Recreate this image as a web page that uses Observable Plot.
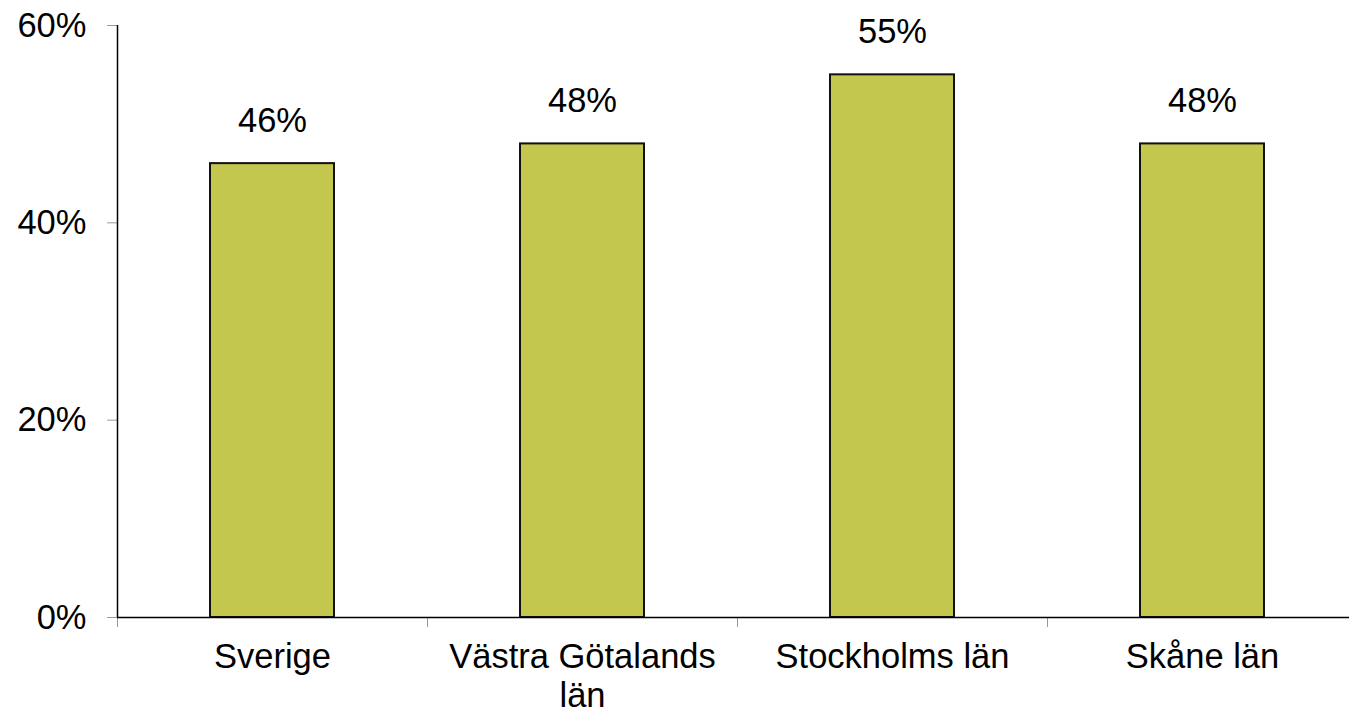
<!DOCTYPE html>
<html>
<head>
<meta charset="utf-8">
<script src="https://cdn.jsdelivr.net/npm/d3@7"></script>
<script src="https://cdn.jsdelivr.net/npm/@observablehq/plot@0.6"></script>
<style>
  html, body { margin: 0; padding: 0; background: #fff; overflow: hidden; }
  #chart { width: 1349px; height: 713px; overflow: hidden; }
  #chart svg { max-width: none !important; font-family: "Liberation Sans", Arial, sans-serif; }
</style>
</head>
<body>
<div id="chart"></div>
<script>
const categories = ["Sverige", "Västra Götalands län", "Stockholms län", "Skåne län"];
const tickLabels = ["Sverige", "Västra Götalands\nlän", "Stockholms län", "Skåne län"];
const values = [46, 48, 55, 48];
const yTicks = [0, 20, 40, 60];

const data = categories.map((c, i) => ({category: c, value: values[i], label: values[i] + "%"}));
const labelOf = new Map(categories.map((c, i) => [c, tickLabels[i]]));

const W = 1357, H = 713, mL = 117, mR = 0, mT = 25, mB = 96;
const step = (W - mL - mR) / categories.length;
const FS = 34.5;

const chart = Plot.plot({
  width: W,
  height: H,
  marginLeft: mL,
  marginRight: mR,
  marginTop: mT,
  marginBottom: mB,
  style: {fontFamily: '"Liberation Sans", Arial, sans-serif', fontSize: FS + "px", color: "#000", background: "#fff", maxWidth: "none"},
  x: {domain: categories, paddingInner: 0.6, paddingOuter: 0.3, axis: null, label: null},
  y: {domain: [yTicks[0], yTicks[yTicks.length - 1]], axis: null, label: null},
  marks: [
    Plot.barY(data, {x: "category", y: "value", fill: "#C4C74D", stroke: "#111", strokeWidth: 2}),
    Plot.text(data, {x: "category", y: "value", text: "label", lineAnchor: "bottom", dy: -32, fontSize: FS, fill: "#000"}),
    // y axis ticks + labels
    Plot.axisY({ticks: yTicks, tickSize: 10, tickFormat: () => "", label: null, stroke: "#999", strokeWidth: 1}),
    Plot.axisY({ticks: yTicks, tickSize: 0, tickPadding: 31, tickFormat: d => d + "%", label: null, fontSize: FS, fill: "#000"}),
    // x axis boundary ticks + labels
    Plot.axisX({tickSize: 10, tickFormat: () => "", label: null, dx: -step / 2, stroke: "#999", strokeWidth: 1}),
    Plot.axisX({tickSize: 0, tickPadding: 22, tickFormat: d => labelOf.get(d), label: null, fontSize: FS, lineHeight: 1.15, fill: "#000"}),
    // axis lines
    Plot.ruleY([yTicks[0]], {stroke: "#000", strokeWidth: 1.5}),
    Plot.ruleX([categories[0]], {y1: yTicks[0], y2: yTicks[yTicks.length - 1], dx: -step / 2, stroke: "#000", strokeWidth: 1.5})
  ]
});
document.getElementById("chart").append(chart);
</script>
</body>
</html>
